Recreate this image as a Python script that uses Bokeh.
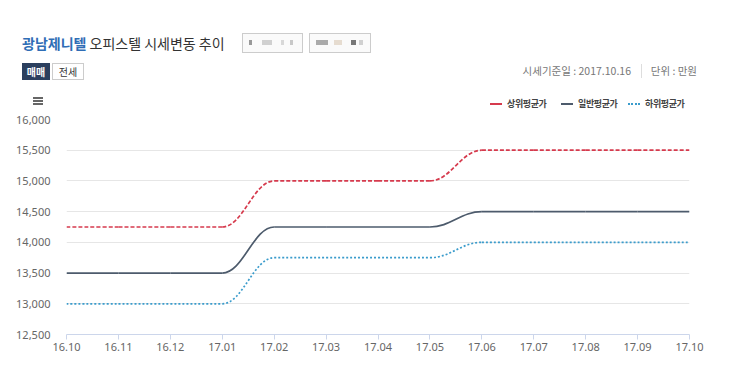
from bokeh.plotting import figure
from bokeh.layouts import column
from bokeh.models import (ColumnDataSource, FixedTicker, NumeralTickFormatter, Range1d, Div)
from bokeh.embed import file_html
from bokeh.resources import INLINE

# ---- data ----
months = ["16.10", "16.11", "16.12", "17.01", "17.02", "17.03", "17.04",
          "17.05", "17.06", "17.07", "17.08", "17.09", "17.10"]
upper = [14250, 14250, 14250, 14250, 15000, 15000, 15000, 15000, 15500, 15500, 15500, 15500, 15500]
general = [13500, 13500, 13500, 13500, 14250, 14250, 14250, 14250, 14500, 14500, 14500, 14500, 14500]
lower = [13000, 13000, 13000, 13000, 13750, 13750, 13750, 13750, 14000, 14000, 14000, 14000, 14000]
series_names = ["상위평균가", "일반평균가", "하위평균가"]
y_ticks = [12500, 13000, 13500, 14000, 14500, 15000, 15500, 16000]
title_bold = "광남제니텔"
title_rest = "오피스텔 시세변동 추이"
tabs = ["매매", "전세"]
base_date = "시세기준일 : 2017.10.16"
unit_text = "단위 : 만원"

KFONT = "Noto Sans CJK KR"
W = 724
HEAD_H = 111

colors = ["#d63a4d", "#4d5b6c", "#3b9ccc"]
dashes = ["4 2", "solid", "2 2"]
css_border = ["2px dashed", "2px solid", "2px dotted"]


def spline_source(xs, ys, s=1.5):
    """Bezier segments (spline control points derived from data points)."""
    n = len(xs)
    lc = [None] * n
    rc = [None] * n
    for i in range(1, n - 1):
        x, y = xs[i], ys[i]
        lx, ly = xs[i - 1], ys[i - 1]
        nx, ny = xs[i + 1], ys[i + 1]
        d = s + 1
        lcx, lcy = (s * x + lx) / d, (s * y + ly) / d
        rcx, rcy = (s * x + nx) / d, (s * y + ny) / d
        corr = ((rcy - lcy) * (rcx - x)) / (rcx - lcx) + y - rcy
        lcy += corr
        rcy += corr
        if lcy > ly and lcy > y:
            lcy = max(ly, y); rcy = 2 * y - lcy
        elif lcy < ly and lcy < y:
            lcy = min(ly, y); rcy = 2 * y - lcy
        if rcy > ny and rcy > y:
            rcy = max(ny, y); lcy = 2 * y - rcy
        elif rcy < ny and rcy < y:
            rcy = min(ny, y); lcy = 2 * y - rcy
        lc[i] = (lcx, lcy)
        rc[i] = (rcx, rcy)
    data = dict(x0=[], y0=[], x1=[], y1=[], cx0=[], cy0=[], cx1=[], cy1=[])
    for i in range(n - 1):
        c0 = rc[i] if rc[i] else (xs[i], ys[i])
        c1 = lc[i + 1] if lc[i + 1] else (xs[i + 1], ys[i + 1])
        data["x0"].append(xs[i]); data["y0"].append(ys[i])
        data["x1"].append(xs[i + 1]); data["y1"].append(ys[i + 1])
        data["cx0"].append(c0[0]); data["cy0"].append(c0[1])
        data["cx1"].append(c1[0]); data["cy1"].append(c1[1])
    return ColumnDataSource(data)


# ================= header (HTML) =================
def ab(l, t, w, h, extra=""):
    return f"position:absolute;left:{l}px;top:{t}px;width:{w}px;height:{h}px;box-sizing:border-box;{extra}"


blobs1 = [(249, 3, "#999"), (262, 10, "#d0d0d0"), (281, 3, "#d8d8d8"), (290, 3, "#c8c8c8")]
blobs2 = [(316, 12, "#aaa"), (334, 8, "#e6dcd0"), (351, 5, "#777"), (359, 4, "#d0d0d0")]
parts = []
parts.append(f'<div style="position:absolute;left:22px;top:33px;font-size:14px;line-height:20px;'
             f'color:#333;white-space:nowrap;"><b style="color:#2f6db5">{title_bold}</b> {title_rest}</div>')
parts.append(f'<div style="{ab(242, 33, 61, 20, "border:1px solid #ccc;background:#fafafa;")}"></div>')
parts.append(f'<div style="{ab(309, 33, 62, 20, "border:1px solid #ccc;background:#fafafa;")}"></div>')
for (l, w, c) in blobs1 + blobs2:
    parts.append(f'<div style="{ab(l, 40, w, 5, "background:" + c + ";")}"></div>')
parts.append(f'<div style="{ab(22, 63, 28, 17, "background:#2b3f5e;color:#fff;font-size:10px;font-weight:bold;text-align:center;line-height:17px;")}">{tabs[0]}</div>')
parts.append(f'<div style="{ab(52, 63, 32, 17, "border:1px solid #ccc;color:#333;font-size:10px;text-align:center;line-height:15px;")}">{tabs[1]}</div>')
parts.append(f'<div style="position:absolute;right:{W - 631}px;top:63px;font-size:10.5px;line-height:16px;color:#777;white-space:nowrap;">{base_date}</div>')
parts.append(f'<div style="{ab(641, 64, 1, 14, "background:#ddd;")}"></div>')
parts.append(f'<div style="position:absolute;right:{W - 697}px;top:63px;font-size:10.5px;line-height:16px;color:#777;white-space:nowrap;">{unit_text}</div>')
for t in (97, 100, 103):
    parts.append(f'<div style="{ab(33, t, 10, 2, "background:#666;")}"></div>')
leg_glyph_x = [490, 561, 628]
for gx, name, c, b in zip(leg_glyph_x, series_names, colors, css_border):
    parts.append(f'<div style="{ab(gx, 103, 12, 2, "border-top:" + b + " " + c + ";")}"></div>')
    parts.append(f'<div style="position:absolute;left:{gx + 17}px;top:97px;font-size:9px;line-height:14px;'
                 f'font-weight:bold;color:#444;letter-spacing:-0.4px;white-space:nowrap;">{name}</div>')

html = (f'<div style="position:relative;width:{W}px;height:{HEAD_H}px;'
        f"font-family:'{KFONT}',sans-serif;\">" + "".join(parts) + "</div>")
header = Div(text=html, width=W, height=HEAD_H, margin=0)

# ================= chart =================
xs = list(range(len(months)))

p = figure(width=W, height=370 - HEAD_H, output_backend="svg", toolbar_location=None,
           x_range=Range1d(0, len(months) - 1), y_range=Range1d(y_ticks[0], y_ticks[-1]),
           min_border_left=66, min_border_right=W - 689, min_border_top=119 - HEAD_H,
           min_border_bottom=370 - 334)
p.outline_line_color = None
p.background_fill_color = "white"
p.border_fill_color = "white"

for vals, c, d in zip([upper, general, lower], colors, dashes):
    src = spline_source(xs, vals)
    p.bezier(x0="x0", y0="y0", x1="x1", y1="y1", cx0="cx0", cy0="cy0", cx1="cx1", cy1="cy1",
             source=src, line_color=c, line_width=1.7, line_dash=d)

p.xaxis.ticker = FixedTicker(ticks=xs)
p.xaxis.major_label_overrides = {i: m for i, m in enumerate(months)}
p.xaxis.axis_line_color = "#ccd6eb"
p.xaxis.major_tick_line_color = "#ccd6eb"
p.xaxis.major_tick_out = 5
p.xaxis.major_tick_in = 0
p.xaxis.minor_tick_line_color = None
p.xaxis.major_label_standoff = 3
p.xaxis.major_label_text_font = "Noto Sans"
p.xaxis.major_label_text_font_size = "11px"
p.xaxis.major_label_text_color = "#666666"

p.yaxis.ticker = FixedTicker(ticks=y_ticks)
p.yaxis.formatter = NumeralTickFormatter(format="0,0")
p.yaxis.axis_line_color = None
p.yaxis.major_tick_line_color = None
p.yaxis.minor_tick_line_color = None
p.yaxis.major_label_standoff = 10
p.yaxis.major_label_text_font = "Noto Sans"
p.yaxis.major_label_text_font_size = "11px"
p.yaxis.major_label_text_color = "#666666"

p.xgrid.grid_line_color = None
p.ygrid.ticker = FixedTicker(ticks=y_ticks)
p.ygrid.grid_line_color = "#e6e6e6"
p.ygrid.grid_line_width = 1

layout = column(header, p, spacing=0)
open("out.html", "w").write(file_html(layout, INLINE))
